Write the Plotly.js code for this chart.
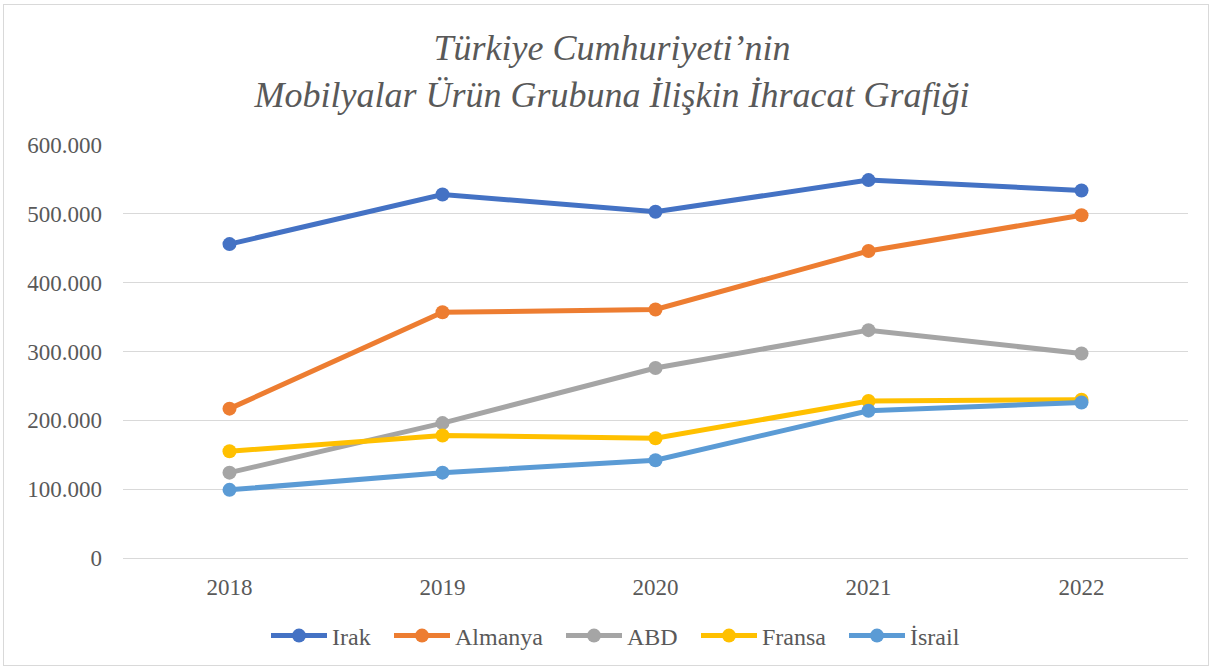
<!DOCTYPE html>
<html>
<head>
<meta charset="utf-8">
<script src="https://cdn.plot.ly/plotly-3.0.1.min.js"></script>
<style>
  html, body { margin: 0; padding: 0; background: #fff; }
  #wrap { position: relative; width: 1212px; height: 669px; }
  #chart { width: 1212px; height: 669px; }
  #frame { position: absolute; left: 3px; top: 4px; right: 3px; bottom: 3px; border: 1px solid #d9d9d9; pointer-events: none; }
</style>
</head>
<body>
<div id="wrap"><div id="chart"></div><div id="frame"></div></div>
<script>
const years = ['2018', '2019', '2020', '2021', '2022'];
const irak = [456000, 528000, 503000, 549000, 534000];
const almanya = [217000, 357000, 361000, 446000, 498000];
const abd = [124000, 196000, 276000, 331000, 297000];
const fransa = [155000, 178000, 174000, 228000, 230000];
const israil = [99000, 124000, 142000, 214000, 226000];

const seriesNames = ['Irak', 'Almanya', 'ABD', 'Fransa', 'İsrail'];
const seriesValues = [irak, almanya, abd, fransa, israil];
const seriesColors = ['#4472C4', '#ED7D31', '#A5A5A5', '#FFC000', '#5B9BD5'];

const serif = '"Liberation Serif", "Times New Roman", Times, serif';
const legendIds = ['legend', 'legend2', 'legend3', 'legend4', 'legend5'];
const legendLeft = [266, 389, 561, 696, 844];

const traces = seriesNames.map((name, i) => ({
  type: 'scatter',
  mode: 'lines+markers',
  name: name,
  legend: legendIds[i],
  x: years,
  y: seriesValues[i],
  line: { color: seriesColors[i], width: 5 },
  marker: { color: seriesColors[i], size: 14 }
}));

const layout = {
  width: 1212,
  height: 669,
  separators: ',.',
  paper_bgcolor: '#ffffff',
  plot_bgcolor: '#ffffff',
  margin: { l: 123, r: 24, t: 145, b: 111 },
  font: { family: serif, color: '#595959', size: 23 },
  title: {
    text: '<i>Türkiye Cumhuriyeti’nin</i><br><i>Mobilyalar Ürün Grubuna İlişkin İhracat Grafiği</i>',
    font: { family: serif, size: 36, color: '#595959' },
    x: 0.505,
    xanchor: 'center',
    y: 0.91,
    yanchor: 'middle'
  },
  xaxis: {
    type: 'category',
    range: [-0.5, 4.5],
    showgrid: false,
    showline: true,
    linecolor: '#d9d9d9',
    linewidth: 1,
    ticks: '',
    ticklabelstandoff: 8,
    tickfont: { family: serif, size: 23, color: '#595959' },
    zeroline: false
  },
  yaxis: {
    range: [0, 600000],
    tickvals: [0, 100000, 200000, 300000, 400000, 500000, 600000],
    tickformat: ',d',
    showgrid: true,
    gridcolor: '#d9d9d9',
    gridwidth: 1,
    zeroline: false,
    showline: false,
    ticks: '',
    ticklabelstandoff: 20,
    tickfont: { family: serif, size: 23, color: '#595959' }
  },
  showlegend: true
};

legendIds.forEach((id, i) => {
  layout[id] = {
    orientation: 'h',
    xref: 'container',
    yref: 'container',
    x: legendLeft[i] / 1212,
    xanchor: 'left',
    y: 1 - 636 / 669,
    yanchor: 'middle',
    font: { family: serif, size: 24, color: '#595959' },
    itemwidth: 56,
    bgcolor: 'rgba(0,0,0,0)'
  };
});

Plotly.newPlot('chart', traces, layout, { displayModeBar: false, responsive: false });
</script>
</body>
</html>
